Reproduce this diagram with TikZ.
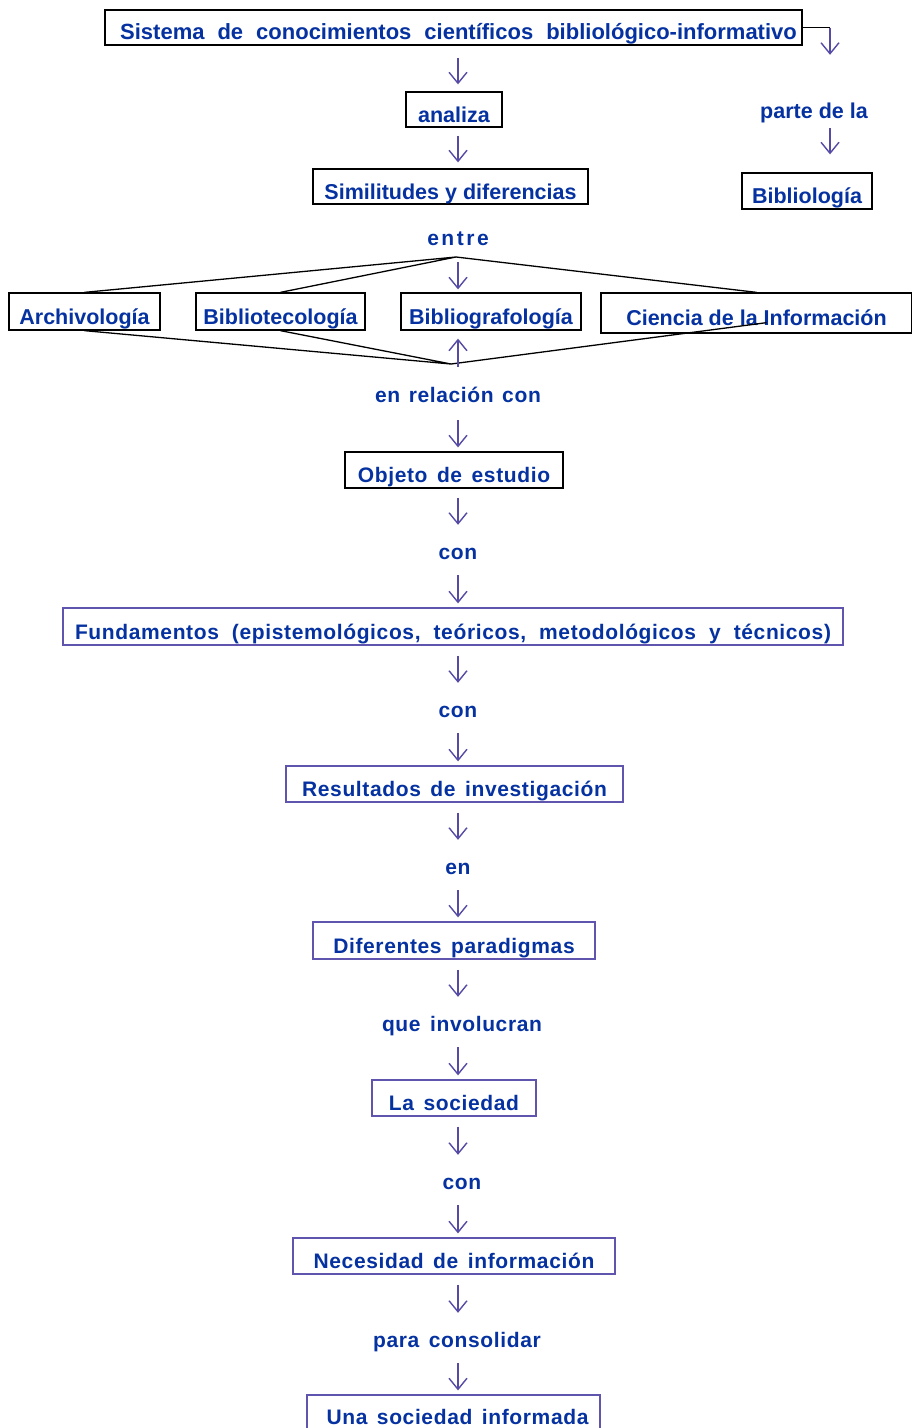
\documentclass[tikz,border=0pt]{standalone}
\usepackage{fontspec}
\setmainfont{Liberation Sans}
\newfontfamily\upfont{Liberation Sans}
\newfontfamily\lowfont{Liberation Sans}[LetterSpace=3]
\newfontfamily\entrefont{Liberation Sans}[LetterSpace=12]
\usetikzlibrary{arrows.meta}
\definecolor{txtblue}{RGB}{5,50,160}
\definecolor{arrblue}{RGB}{85,75,165}
\definecolor{boxblue}{RGB}{95,85,175}
\newcommand{\upf}{\upfont\bfseries\fontsize{21.5}{24}\selectfont}
\newcommand{\sisf}{\upfont\bfseries\fontsize{22}{24}\selectfont\spaceskip 13pt plus 1pt minus 1pt\relax}
\newcommand{\lowf}{\lowfont\bfseries\fontsize{21}{24}\selectfont\spaceskip 9.5pt plus 1pt minus 1pt\relax}
\newcommand{\relf}{\lowfont\bfseries\fontsize{21}{24}\selectfont\spaceskip 8.5pt plus 1pt minus 1pt\relax}
\newcommand{\fundf}{\lowfont\bfseries\fontsize{21}{24}\selectfont\spaceskip 13pt plus 1pt minus 1pt\relax}
\newcommand{\entref}{\entrefont\bfseries\fontsize{21}{24}\selectfont}
\tikzset{
  x=1pt, y=-1pt,
  upbox/.style={draw=black, line width=1.3pt, inner sep=0pt, text height=29pt, text depth=4pt,
    font=\upf, text=txtblue},
  lowbox/.style={draw=boxblue, line width=1.3pt, inner sep=0pt, text height=29pt, text depth=4pt,
    font=\lowf, text=txtblue},
  uplabel/.style={inner sep=0pt, text height=15pt, text depth=4pt, anchor=base,
    font=\upf, text=txtblue},
  lowlabel/.style={inner sep=0pt, text height=15pt, text depth=4pt, anchor=base,
    font=\lowf, text=txtblue},
  arr/.style={draw=arrblue, line width=1.4pt, -{Straight Barb[length=11pt,width=18pt,line width=1.4pt]}},
  fan/.style={draw=black, line width=1.3pt},
}
\begin{document}
\begin{tikzpicture}
\useasboundingbox (0,0) rectangle (911,1428);
\coordinate (X) at (458,0);
% top
\node[upbox, font=\sisf, text height=28pt, minimum width=697pt, minimum height=35pt] (sis) at (453.5,27.5) {\hspace*{10pt}Sistema de conocimientos científicos bibliológico-informativo};
\node[upbox, minimum width=96pt, minimum height=35pt] (anal) at (454,109.5) {analiza};
\node[upbox, minimum width=275pt, minimum height=35pt] (sim) at (450.5,186.5) {Similitudes y diferencias};
\node[uplabel] (parte) at (814,118) {parte de la};
\node[upbox, minimum width=130pt, minimum height=36pt] (bib) at (807,191) {Bibliología};
\coordinate (corner) at (830,27.5);
\draw[fan] (sis.east) -- (corner);
\draw[arr, shorten >=48pt] (corner) -- (parte.north -| corner);
\draw[arr, shorten <=6pt, shorten >=18pt] (parte.south -| corner) -- (bib.north -| corner);
\draw[arr, shorten <=12pt, shorten >=7pt] (sis.south -| X) -- (anal.north -| X);
\draw[arr, shorten <=8pt, shorten >=6pt] (anal.south -| X) -- (sim.north -| X);
% fan
\node[lowlabel, font=\entref] (entre) at (458,245) {entre};
\coordinate (vt) at (456,257);
\coordinate (vb) at (451,364);
\node[upbox, minimum width=151pt, minimum height=37pt] (arch) at (84.5,311.5) {Archivología};
\node[upbox, minimum width=169pt, minimum height=37pt] (biblio) at (280.5,311.5) {Bibliotecología};
\node[upbox, minimum width=180pt, minimum height=37pt] (bgrafo) at (491,311.5) {Bibliografología};
\node[upbox, minimum width=311pt, minimum height=40pt] (cie) at (756.5,313) {Ciencia de la Información};
\draw[fan] (arch.north) -- (vt) -- (biblio.north);
\draw[fan] (vt) -- (cie.north);
\draw[fan] (arch.south) -- (vb) -- (biblio.south);
\draw[fan] (vb) -- ([xshift=10pt,yshift=11pt]cie.south);
\draw[arr, shorten <=5pt, shorten >=3pt] (vt -| X) -- (bgrafo.north -| X);
\draw[arr, shorten >=8pt] ([yshift=-3pt]vb -| X) -- (bgrafo.south -| X);
% chain
\node[lowlabel, font=\relf] (rel) at (458,402) {en relación con};
\node[upbox, font=\lowf, minimum width=218pt, minimum height=36pt] (obj) at (454,470) {Objeto de estudio};
\node[lowlabel] (con1) at (458,559) {con};
\node[lowbox, font=\fundf, minimum width=780pt, minimum height=37pt] (fund) at (453,626.5) {Fundamentos (epistemológicos, teóricos, metodológicos y técnicos)};
\node[lowlabel] (con2) at (458,717) {con};
\node[lowbox, minimum width=337pt, minimum height=36pt] (res) at (454.5,784) {Resultados de investigación};
\node[lowlabel] (en) at (458,874) {en};
\node[lowbox, minimum width=282pt, minimum height=37pt] (dif) at (454,940.5) {Diferentes paradigmas};
\node[lowlabel] (que) at (462,1031) {que involucran};
\node[lowbox, minimum width=164pt, minimum height=36pt] (soc) at (454,1098) {La sociedad};
\node[lowlabel] (con3) at (462,1189) {con};
\node[lowbox, minimum width=322pt, minimum height=36pt] (nec) at (454,1256) {Necesidad de información};
\node[lowlabel] (para) at (457,1347) {para consolidar};
\node[lowbox, text height=17pt, text depth=4pt, minimum width=293pt, minimum height=45pt] (una) at (453.5,1417.5) {\hspace*{8pt}Una sociedad informada};
\draw[arr, shorten <=14pt, shorten >=4pt] (rel.south -| X) -- (obj.north -| X);
\draw[arr, shorten <=9pt, shorten >=19pt] (obj.south -| X) -- (con1.north -| X);
\draw[arr, shorten <=12pt, shorten >=4pt] (con1.south -| X) -- (fund.north -| X);
\draw[arr, shorten <=10pt, shorten >=19pt] (fund.south -| X) -- (con2.north -| X);
\draw[arr, shorten <=12pt, shorten >=4pt] (con2.south -| X) -- (res.north -| X);
\draw[arr, shorten <=10pt, shorten >=19pt] (res.south -| X) -- (en.north -| X);
\draw[arr, shorten <=12pt, shorten >=4pt] (en.south -| X) -- (dif.north -| X);
\draw[arr, shorten <=10pt, shorten >=19pt] (dif.south -| X) -- (que.north -| X);
\draw[arr, shorten <=12pt, shorten >=4pt] (que.south -| X) -- (soc.north -| X);
\draw[arr, shorten <=10pt, shorten >=19pt] (soc.south -| X) -- (con3.north -| X);
\draw[arr, shorten <=12pt, shorten >=4pt] (con3.south -| X) -- (nec.north -| X);
\draw[arr, shorten <=10pt, shorten >=19pt] (nec.south -| X) -- (para.north -| X);
\draw[arr, shorten <=12pt, shorten >=4pt] (para.south -| X) -- (una.north -| X);
\end{tikzpicture}
\end{document}
